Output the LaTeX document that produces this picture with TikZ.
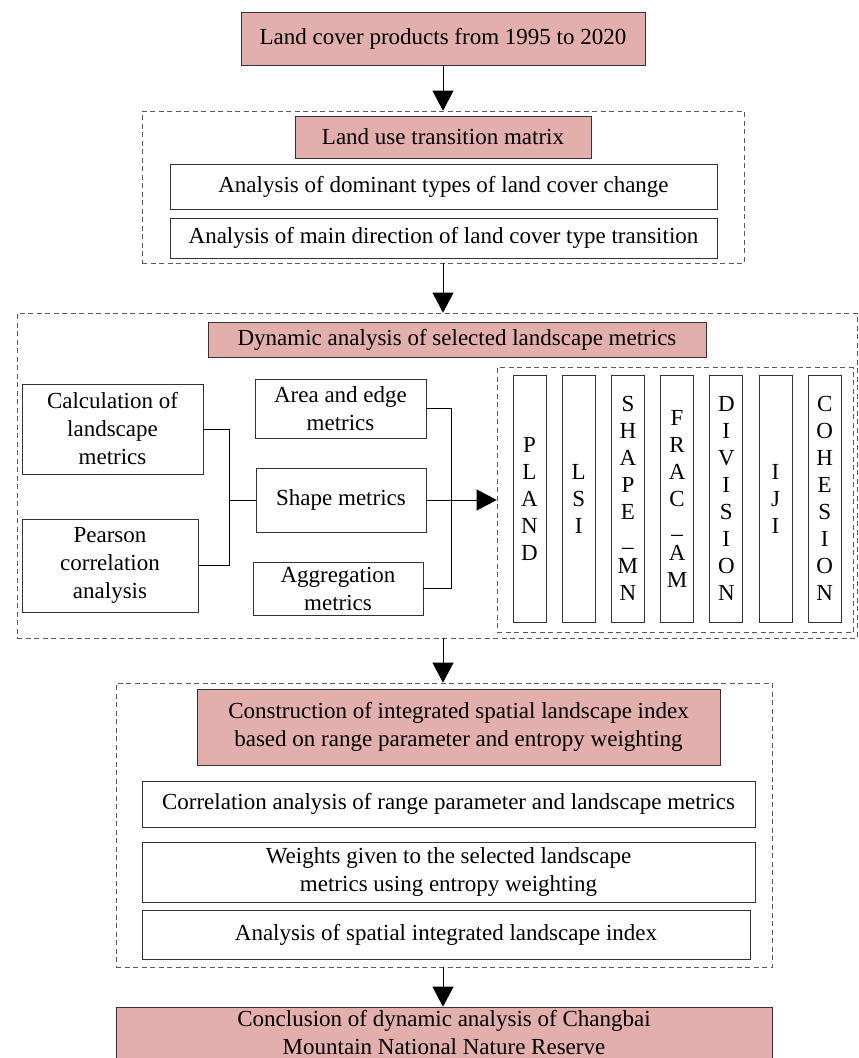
\documentclass[tikz,border=0pt]{standalone}
\usepackage{fontspec}
\setmainfont{Liberation Serif}
\usetikzlibrary{arrows.meta}
\definecolor{pinkc}{HTML}{E3AFAC}
\definecolor{edge}{HTML}{333333}
\definecolor{grpc}{HTML}{5A5A5A}
\newcommand\fsB{\fontsize{23}{28}\selectfont}
\newcommand\fsC{\fontsize{23}{27}\selectfont}

\begin{document}
\begin{tikzpicture}[x=1pt,y=-1pt,
  head/.style={draw=edge,fill=pinkc,line width=0.7pt,align=center,font=\fsB,inner sep=0},
  item/.style={draw=edge,fill=white,line width=0.7pt,align=center,font=\fsB,inner sep=0},
  grp/.style={draw=grpc,line width=0.7pt,dash pattern=on 5pt off 3.5pt,inner sep=0},
  bar/.style={item,font=\fsC,minimum width=33pt,minimum height=247pt},
  conn/.style={black,line width=0.7pt},
  flow/.style={conn,-{Triangle[length=20pt,width=21pt]}}]
\useasboundingbox (0,0) rectangle (859,1058);
% ============ dashed groups ============
\node[grp,minimum width=602pt,minimum height=152pt] (grpa) at (443,187) {};
\node[grp,minimum width=840pt,minimum height=325pt] (grpb) at (437,475.5) {};
\node[grp,minimum width=356pt,minimum height=265pt] (grpc) at (675,500) {};
\node[grp,minimum width=656pt,minimum height=284pt] (grpd) at (444,825) {};
% ============ source and transition matrix ============
\node[head,minimum width=404pt,minimum height=53pt] (src) at (443,38.5) {Land cover products from 1995 to 2020};
\node[head,minimum width=296pt,minimum height=42pt] (lutm) at (443,137) {Land use transition matrix};
\node[item,minimum width=547pt,minimum height=45pt] (dom) at (443.5,186.5) {Analysis of dominant types of land cover change};
\node[item,minimum width=547pt,minimum height=40pt] (dir) at (443.5,238) {Analysis of main direction of land cover type transition};
% ============ landscape metrics ============
\node[head,minimum width=498pt,minimum height=35pt] (dyn) at (457,339.5) {Dynamic analysis of selected landscape metrics};
\node[item,minimum width=181pt,minimum height=90pt] (calc) at (112.5,429) {Calculation of\\landscape\\metrics};
\node[item,minimum width=176pt,minimum height=93pt] (pear) at (110,565.5) {Pearson\\correlation\\analysis};
\node[item,minimum width=171pt,minimum height=59pt] (area) at (340.5,408.5) {Area and edge\\metrics};
\node[item,minimum width=170pt,minimum height=64pt] (shape) at (341,500) {Shape metrics};
\node[item,minimum width=170pt,minimum height=53pt] (aggr) at (338,588.5) {Aggregation\\metrics};
\foreach \nm/\txt [count=\i from 0] in {pland/P\\L\\A\\N\\D, lsi/L\\S\\I,
    shapemn/S\\H\\A\\P\\E\\\_\\M\\N, fracam/F\\R\\A\\C\\\_\\A\\M,
    division/D\\I\\V\\I\\S\\I\\O\\N, iji/I\\J\\I, cohesion/C\\O\\H\\E\\S\\I\\O\\N}
  \node[bar] (\nm) at (529.5+49.2*\i,498.5) {\txt};
\coordinate (jl) at (229,500);
\coordinate (jr) at (451,500);
\draw[conn] (calc.east) -| (jl);
\draw[conn] (pear.east) -| (jl);
\draw[conn] (jl) -- (shape.west);
\draw[conn] (area.east) -| (jr);
\draw[conn] (aggr.east) -| (jr);
\draw[flow] (shape.east) -- (grpc.west);
% ============ integrated index ============
\node[head,minimum width=523pt,minimum height=76pt] (cons) at (458.5,727) {Construction of integrated spatial landscape index\\based on range parameter and entropy weighting};
\node[item,minimum width=613pt,minimum height=46pt] (corr) at (448.5,804) {Correlation analysis of range parameter and landscape metrics};
\node[item,minimum width=613pt,minimum height=60pt] (wts) at (448.5,872) {Weights given to the selected landscape\\metrics using entropy weighting};
\node[item,minimum width=608pt,minimum height=49pt] (spat) at (446,934.5) {Analysis of spatial integrated landscape index};
\node[head,minimum width=656pt,minimum height=52pt] (concl) at (444,1033) {Conclusion of dynamic analysis of Changbai\\Mountain National Nature Reserve};
% ============ main flow ============
\draw[flow] (src.south) -- (grpa.north);
\draw[flow] (grpa.south) -- (grpa.south |- grpb.north);
\draw[flow] (grpa.south |- grpb.south) -- (grpa.south |- grpd.north);
\draw[flow] (grpa.south |- grpd.south) -- (grpa.south |- concl.north);
\end{tikzpicture}
\end{document}
